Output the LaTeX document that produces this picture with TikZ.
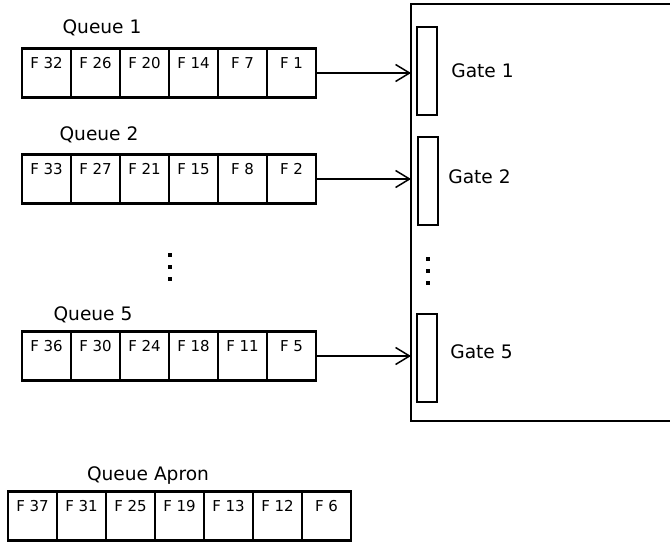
\documentclass[tikz,border=0pt]{standalone}
\usepackage{fontspec}
\setmainfont{DejaVu Sans}
\usetikzlibrary{positioning,arrows.meta}

\begin{document}
\begin{tikzpicture}[
  x=1pt, y=-1pt,
  >={Straight Barb[length=14pt,width=17pt]},
  cell/.style={
    rectangle,
    draw=black,
    line width=2.3pt,
    outer sep=0pt,
    inner sep=0pt,
    minimum width=49pt,
    minimum height=49pt,
    text height=20pt,
    text depth=29pt,
    font=\fontsize{15}{17}\selectfont
  },
  qlabel/.style={
    inner sep=0pt,
    font=\fontsize{18.6}{21}\selectfont
  },
  gate/.style={
    rectangle,
    draw=black,
    line width=2.3pt,
    inner sep=0pt,
    minimum width=20pt,
    minimum height=88pt
  },
  gatearea/.style={
    rectangle,
    draw=black,
    line width=2.3pt,
    outer sep=0pt,
    minimum width=275pt,
    minimum height=417pt
  },
  arr/.style={->,line width=1.5pt}
]

\useasboundingbox (0,0) rectangle (670,543);
\clip (0,0) rectangle (670,543);

% queue 1
\node[cell] (q1c1) at (46.5,73) {F 32};
\node[cell, right=0pt of q1c1] (q1c2) {F 26};
\node[cell, right=0pt of q1c2] (q1c3) {F 20};
\node[cell, right=0pt of q1c3] (q1c4) {F 14};
\node[cell, right=0pt of q1c4] (q1c5) {F 7};
\node[cell, right=0pt of q1c5] (q1c6) {F 1};
\node[qlabel] (q1label) at (102,28) {Queue 1};

% queue 2
\node[cell] (q2c1) at (46.5,179) {F 33};
\node[cell, right=0pt of q2c1] (q2c2) {F 27};
\node[cell, right=0pt of q2c2] (q2c3) {F 21};
\node[cell, right=0pt of q2c3] (q2c4) {F 15};
\node[cell, right=0pt of q2c4] (q2c5) {F 8};
\node[cell, right=0pt of q2c5] (q2c6) {F 2};
\node[qlabel] (q2label) at (99,134.5) {Queue 2};

% queue 5
\node[cell] (q5c1) at (46.5,356) {F 36};
\node[cell, right=0pt of q5c1] (q5c2) {F 30};
\node[cell, right=0pt of q5c2] (q5c3) {F 24};
\node[cell, right=0pt of q5c3] (q5c4) {F 18};
\node[cell, right=0pt of q5c4] (q5c5) {F 11};
\node[cell, right=0pt of q5c5] (q5c6) {F 5};
\node[qlabel] (q5label) at (93,314.5) {Queue 5};

% apron queue
\node[cell] (apc1) at (32.5,516) {F 37};
\node[cell, right=0pt of apc1] (apc2) {F 31};
\node[cell, right=0pt of apc2] (apc3) {F 25};
\node[cell, right=0pt of apc3] (apc4) {F 19};
\node[cell, right=0pt of apc4] (apc5) {F 13};
\node[cell, right=0pt of apc5] (apc6) {F 12};
\node[cell, right=0pt of apc6] (apc7) {F 6};
\node[qlabel] (aplabel) at (148,476) {Queue Apron};

% gates
\node[gatearea, anchor=north west] (terminal) at (411,4) {};
\node[gate] (gate1) at (427,71) {};
\node[gate] (gate2) at (428,181) {};
\node[gate] (gate5) at (427,358) {};
\node[qlabel, right=13pt of gate1] (gate1label) {Gate 1};
\node[qlabel, right=9pt of gate2, yshift=4pt] (gate2label) {Gate 2};
\node[qlabel, right=12pt of gate5, yshift=6pt] (gate5label) {Gate 5};

\draw[arr] (q1c6.east) -- (q1c6.east -| terminal.west);
\draw[arr] (q2c6.east) -- (q2c6.east -| terminal.west);
\draw[arr] (q5c6.east) -- (q5c6.east -| terminal.west);

% dots
\fill (168,253) rectangle (172,257);
\fill (168,265) rectangle (172,269);
\fill (168,277) rectangle (172,281);
\fill (426,257) rectangle (430,261);
\fill (426,269) rectangle (430,273);
\fill (426,281) rectangle (430,285);

\end{tikzpicture}
\end{document}
